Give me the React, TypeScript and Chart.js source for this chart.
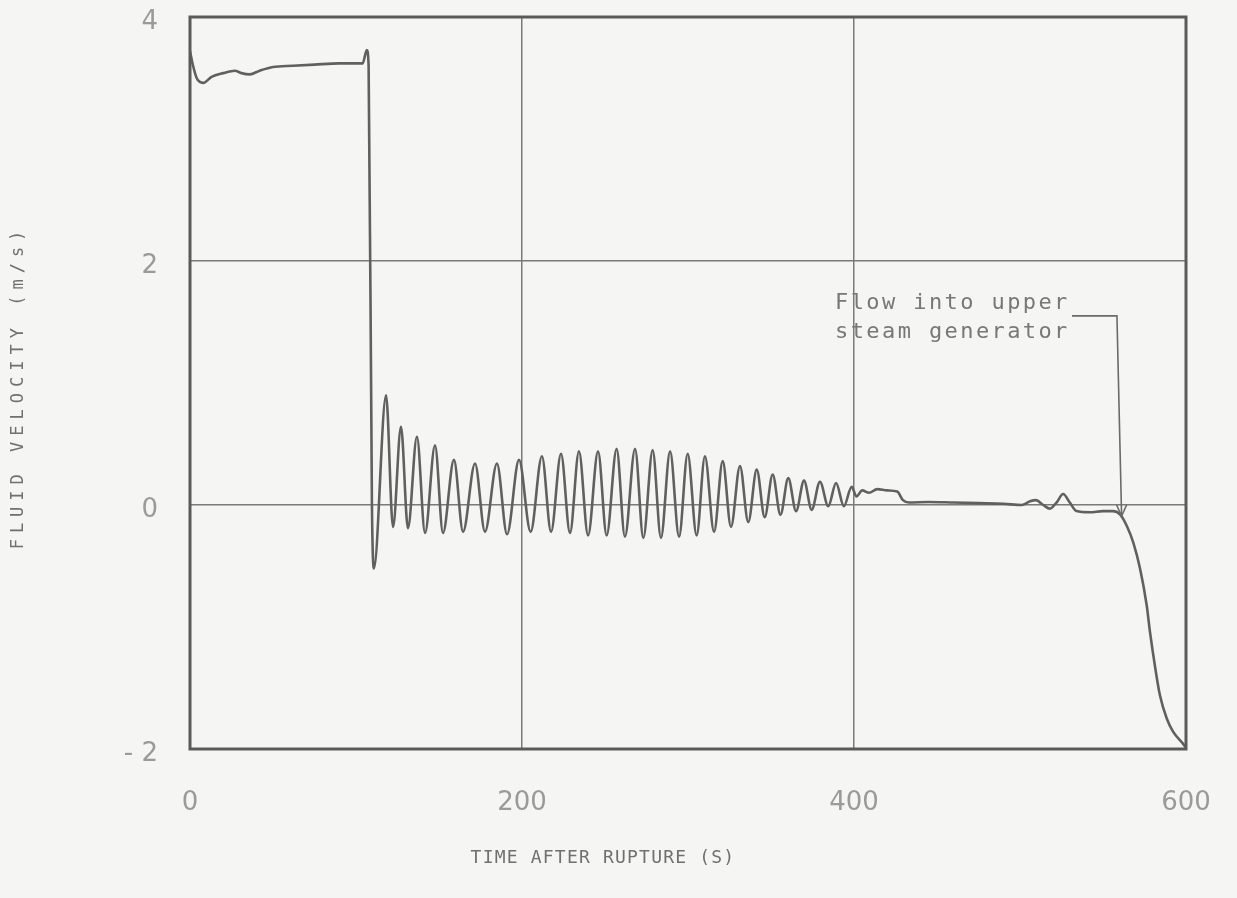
import { useEffect, useRef } from "react";
import { Chart, registerables } from "chart.js";

Chart.register(...registerables);

// Time after rupture (s)
const timeS: number[] = [
  0, 1.5, 4, 8, 13, 20, 27, 31, 36, 42, 50, 62, 75, 90, 104, 106.5, 107.6, 109.6, 110.8,
  118.1, 122.3, 127.1, 131.3, 136.7, 141.6, 147.6, 152.4, 159.0, 164.5, 171.7, 177.7,
  184.9, 191.0, 198.2, 205.2, 212.0, 217.5, 223.5, 228.9, 234.3, 239.8, 245.8, 251.0,
  257.0, 262.0, 268.1, 273.1, 278.7, 283.7, 289.2, 294.6, 299.8, 305.2, 310.2, 315.7,
  320.9, 325.9, 331.3, 336.3, 341.4, 346.2, 351.0, 355.7, 360.4, 365.1, 369.9, 374.5,
  379.5, 384.5, 389.2, 393.9, 398.6, 401.5, 405, 409, 414, 420, 426, 429.5, 433, 445,
  460, 475, 490, 501, 506, 509.5, 514, 518, 522, 526, 530, 534, 542, 550, 556, 560.5,
  564.3, 568.3, 572.3, 576.3, 578.3, 581.3, 584.3, 588.4, 592.3, 598.4, 600,
];

// Fluid velocity (m/s)
const velocity: number[] = [
  3.72, 3.62, 3.5, 3.46, 3.51, 3.54, 3.56, 3.54, 3.53, 3.56, 3.59, 3.6, 3.61, 3.62, 3.62, 3.73, 3.6, 0.0, -0.52,
  0.9, -0.18, 0.64, -0.19, 0.56, -0.23, 0.49, -0.23, 0.37, -0.22, 0.34, -0.22,
  0.34, -0.24, 0.37, -0.22, 0.4, -0.22, 0.42, -0.23, 0.44, -0.25, 0.44, -0.25,
  0.46, -0.26, 0.46, -0.27, 0.45, -0.27, 0.44, -0.26, 0.42, -0.25, 0.4, -0.22,
  0.36, -0.18, 0.32, -0.14, 0.29, -0.1, 0.25, -0.08, 0.22, -0.05, 0.2, -0.04,
  0.19, -0.01, 0.18, -0.01, 0.15, 0.07, 0.12, 0.1, 0.13, 0.12, 0.11, 0.04, 0.02, 0.025,
  0.02, 0.015, 0.01, 0.0, 0.03, 0.04, 0.0, -0.03, 0.02, 0.09, 0.02, -0.05, -0.06, -0.05, -0.05, -0.08,
  -0.17, -0.31, -0.52, -0.82, -1.04, -1.32, -1.56, -1.75, -1.86, -1.96, -1.99,
];

const xTickValues: number[] = [0, 200, 400, 600];
const yTickValues: number[] = [-2, 0, 2, 4];
const xTitle = "TIME AFTER RUPTURE (S)";
const yTitle = "FLUID VELOCITY (m/s)";
const noteLines: string[] = ["Flow into upper", "steam generator"];

// annotation anchors in data units
const noteTextAt = { x: 388.6, y: 1.61 };
const leaderPath: { x: number; y: number }[] = [
  { x: 531.3, y: 1.55 },
  { x: 558.4, y: 1.55 },
  { x: 561.2, y: -0.09 },
];

const BG = "#f5f5f4";

const overlayPlugin = {
  id: "overlay",
  beforeDraw(chart: any) {
    const { ctx, width, height } = chart;
    ctx.save();
    ctx.fillStyle = BG;
    ctx.fillRect(0, 0, width, height);
    ctx.restore();
  },
  afterDraw(chart: any) {
    const { ctx, chartArea: a, scales } = chart;
    const xs = scales.x;
    const ys = scales.y;
    ctx.save();
    // frame
    ctx.strokeStyle = "#5a5a5a";
    ctx.lineWidth = 3;
    ctx.strokeRect(a.left, a.top, a.right - a.left, a.bottom - a.top);

    // note text
    ctx.fillStyle = "#777777";
    ctx.font = '22px "DejaVu Sans Mono"';
    (ctx as any).letterSpacing = "2.4px";
    ctx.textAlign = "left";
    ctx.textBaseline = "alphabetic";
    const tx = xs.getPixelForValue(noteTextAt.x);
    const ty = ys.getPixelForValue(noteTextAt.y);
    noteLines.forEach((line, i) => ctx.fillText(line, tx, ty + i * 29));

    // leader line with arrow
    ctx.strokeStyle = "#6a6a6a";
    ctx.lineWidth = 1.6;
    ctx.beginPath();
    leaderPath.forEach((p, i) => {
      const px = xs.getPixelForValue(p.x);
      const py = ys.getPixelForValue(p.y);
      if (i === 0) ctx.moveTo(px, py);
      else ctx.lineTo(px, py);
    });
    ctx.stroke();
    const tip = leaderPath[leaderPath.length - 1];
    const tipX = xs.getPixelForValue(tip.x);
    const tipY = ys.getPixelForValue(tip.y);
    ctx.beginPath();
    ctx.moveTo(tipX - 5, tipY - 11);
    ctx.lineTo(tipX, tipY);
    ctx.lineTo(tipX + 5, tipY - 11);
    ctx.stroke();

    // axis titles
    ctx.fillStyle = "#707070";
    ctx.font = '18px "DejaVu Sans Mono"';
    (ctx as any).letterSpacing = "1.2px";
    ctx.textAlign = "center";
    ctx.textBaseline = "middle";
    ctx.fillText(xTitle, 603, 858);

    ctx.save();
    ctx.translate(19, 387);
    ctx.rotate(-Math.PI / 2);
    (ctx as any).letterSpacing = "6px";
    ctx.font = '17px "DejaVu Sans Mono"';
    ctx.fillText(yTitle, 0, 0);
    ctx.restore();

    ctx.restore();
  },
};

function zeroPadding(s: any) {
  s.paddingTop = 0;
  s.paddingBottom = 0;
  s.paddingLeft = 0;
  s.paddingRight = 0;
}

export default function App() {
  const canvasRef = useRef<HTMLCanvasElement | null>(null);

  useEffect(() => {
    const canvas = canvasRef.current;
    if (!canvas) return;
    const points = timeS.map((t, i) => ({ x: t, y: velocity[i] }));
    const chart = new Chart(canvas, {
      type: "line",
      data: {
        datasets: [
          {
            data: points,
            borderColor: "#606060",
            borderWidth: 2.6,
            pointRadius: 0,
            fill: false,
            cubicInterpolationMode: "monotone",
          },
        ],
      },
      options: {
        animation: false,
        responsive: true,
        maintainAspectRatio: false,
        layout: { padding: { top: 17, right: 51, left: 0, bottom: 0 } },
        plugins: {
          legend: { display: false },
          tooltip: { enabled: false },
        },
        scales: {
          x: {
            type: "linear",
            min: 0,
            max: 600,
            afterBuildTicks: (s: any) => {
              s.ticks = xTickValues.map((v) => ({ value: v }));
            },
            afterFit: (s: any) => {
              s.height = 149;
              zeroPadding(s);
            },
            grid: { color: "#7a7a7a", lineWidth: 1.5, drawTicks: false },
            border: { display: false },
            ticks: {
              padding: 39,
              color: "#9a9a9a",
              font: { size: 26, family: '"DejaVu Sans"' },
              maxRotation: 0,
            },
          },
          y: {
            type: "linear",
            min: -2,
            max: 4,
            afterBuildTicks: (s: any) => {
              s.ticks = yTickValues.map((v) => ({ value: v }));
            },
            afterFit: (s: any) => {
              s.width = 190;
              zeroPadding(s);
            },
            grid: { color: "#7a7a7a", lineWidth: 1.5, drawTicks: false },
            border: { display: false },
            ticks: {
              padding: 32,
              labelOffset: 5,
              color: "#9a9a9a",
              font: { size: 26, family: '"DejaVu Sans"' },
              callback: (v: any) => (Number(v) < 0 ? "- " + Math.abs(Number(v)) : String(v)),
            },
          },
        },
      },
      plugins: [overlayPlugin],
    } as any);
    return () => chart.destroy();
  }, []);

  return (
    <div
      style={{
        position: "fixed",
        left: 0,
        top: 0,
        width: 1237,
        height: 898,
        background: BG,
      }}
    >
      <canvas ref={canvasRef} />
    </div>
  );
}
